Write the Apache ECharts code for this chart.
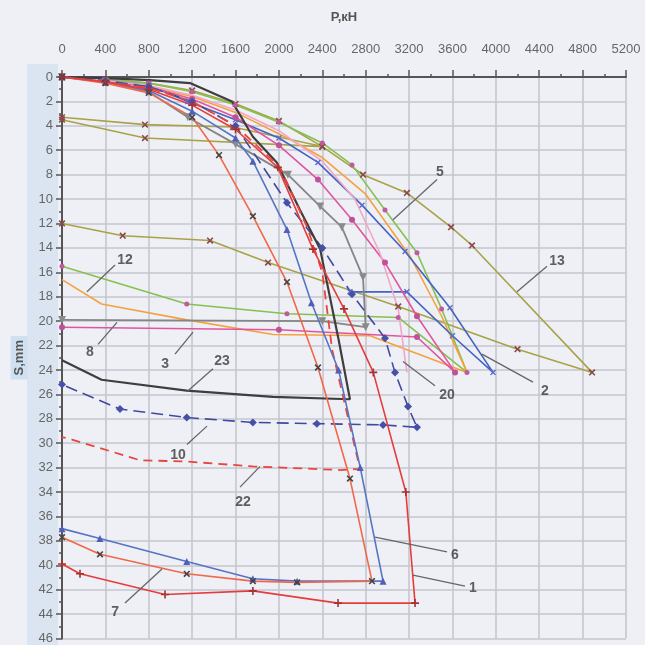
<!DOCTYPE html>
<html><head><meta charset="utf-8">
<script src="https://cdn.jsdelivr.net/npm/echarts@6/dist/echarts.min.js"></script>
<style>html,body{margin:0;padding:0;background:#eef0f5}#c{width:645px;height:645px}</style>
</head><body><div id="c"></div>
<script>
// ---- data: [P (kN), S (mm)] ----
const s1  = [[0,0],[400,0.4],[800,1.0],[1200,2.3],[1600,4.3],[1990,7.4],[2314,14.1],[2600,19],[2870,24.2],[3170,34],[3255,43.1],[2545,43.1],[1760,42.1],[950,42.4],[166,40.7],[0,39.9]];
const s6  = [[0,0],[400,0.4],[800,1.1],[1200,2.8],[1600,5.0],[1760,6.9],[2074,12.5],[2300,18.5],[2550,24],[2750,32],[2960,41.3],[2167,41.3],[1760,41.1],[1150,39.7],[350,37.8],[0,37.0]];
const s7  = [[0,0],[400,0.5],[800,1.3],[1200,3.3],[1448,6.4],[1760,11.4],[2074,16.8],[2360,23.8],[2655,32.9],[2858,41.3],[2167,41.4],[1760,41.3],[1150,40.7],[350,39.1],[0,37.7]];
const s22 = [[0,0],[400,0.4],[800,0.9],[1200,2.0],[1600,4.0],[2010,7.4],[2260,12.3],[2400,16],[2490,22.3],[2655,28.6],[2747,32.1],[2563,32.2],[1760,31.9],[1150,31.5],[720,31.4],[92,29.7],[0,29.5]];
const s23 = [[0,0],[400,0.1],[811,0.25],[1180,0.5],[1567,2.0],[1760,4.9],[1980,7.0],[2194,10.9],[2380,14.1],[2550,21.5],[2655,26.4],[1945,26.2],[1150,25.7],[365,24.8],[0,23.2]];
const s10 = [[0,0],[400,0.3],[800,0.8],[1200,2.0],[1600,4.0],[2074,10.3],[2400,14],[2674,17.8],[2978,21.4],[3070,24.2],[3190,27],[3273,28.7],[2960,28.5],[2350,28.4],[1760,28.3],[1150,27.9],[535,27.2],[0,25.2]];
const s8  = [[0,0],[400,0.4],[800,1.2],[1160,3.3],[1600,5.5],[2083,8.0],[2380,10.6],[2580,12.3],[2775,16.4],[2800,20.5],[2400,20.0],[0,19.9]];
const s2  = [[0,0],[400,0.3],[800,0.7],[1160,2.0],[1600,3.5],[2000,5.0],[2360,7.0],[2766,10.5],[3163,14.3],[3577,18.9],[3974,24.2],[3600,21.2],[3180,17.6],[2655,17.6]];
const s5  = [[0,0],[400,0.2],[800,0.5],[1200,1.2],[1600,2.3],[2000,3.7],[2400,5.4],[2674,7.2],[2978,10.9],[3273,14.4],[3500,19.0],[3734,24.2],[3100,19.7],[2074,19.4],[1150,18.6],[0,15.5]];
const s12 = [[0,0],[400,0.3],[800,0.8],[1200,1.6],[1600,2.9],[2100,5.1],[2400,6.6],[2800,9.6],[3210,14.7],[3500,19.6],[3734,24.2],[2840,21.2],[1945,21.1],[1150,19.9],[365,18.6],[0,16.6]];
const s3  = [[0,0],[400,0.3],[800,0.8],[1200,1.8],[1600,3.3],[2000,5.6],[2360,8.4],[2674,11.7],[2978,15.2],[3273,19.6],[3624,24.2],[3273,21.3],[2000,20.7],[0,20.5]];
const s20 = [[0,0],[400,0.3],[800,0.7],[1200,1.5],[1600,2.7],[2000,4.4],[2400,6.9],[2700,10],[2930,14.4],[3100,19],[3180,24.2]];
const s13 = [[0,0],[400,0.2],[800,0.5],[1200,1.1],[1600,2.2],[2000,3.6],[2400,5.7],[765,5.0],[0,3.5],[0,3.3],[765,3.9],[1577,4.1],[2400,5.7],[2775,8.0],[3180,9.5],[3587,12.3],[3780,13.8],[4887,24.2],[4200,22.3],[3100,18.8],[1900,15.2],[1365,13.4],[560,13.0],[0,12.0]];

// curve number labels and leader lines
const labelText = ['5','13','2','20','12','8','3','23','10','22','7','6','1'];
const labelPos  = [[3485,7.8],[4564,15.1],[4453,25.7],[3550,26.1],[581,15.0],[258,22.5],[950,23.5],[1475,23.3],[1070,31.0],[1669,34.8],[489,43.8],[3623,39.2],[3789,41.9]];
const leaderFrom= [[3458,8.4],[4472,15.5],[4343,25.0],[3439,25.3],[489,15.4],[332,21.9],[1042,22.7],[1392,23.9],[1152,30.1],[1641,33.6],[581,43.1],[3550,38.9],[3716,41.7]];
const leaderTo  = [[3052,11.7],[4195,17.6],[3872,22.7],[3144,23.3],[230,17.6],[507,20.1],[1208,20.9],[1162,25.7],[1337,28.6],[1826,31.9],[922,40.3],[2886,37.7],[3236,40.8]];

const PLUS = 'path://M4,0h2v4h4v2h-4v4h-2v-4h-4v-2h4z';
const chart = echarts.init(document.getElementById('c'));

function ln(name, data, color, opt) {
  opt = opt || {};
  return {
    name, type: 'line', data, smooth: false,
    symbol: opt.symbol || 'none', symbolSize: opt.size || 7, symbolRotate: opt.rot || 0,
    showSymbol: !!opt.symbol,
    lineStyle: { color, width: opt.w || 1.6, type: opt.dash || 'solid' },
    itemStyle: { color: opt.mcolor || color },
    z: opt.z || 2, silent: true, animation: false
  };
}

const series = [
  ln('13', s13, '#a9a248', {symbol: PLUS, rot: 45, size: 8, mcolor: '#8a4a4a'}),
  ln('5',  s5,  '#86c050', {symbol: 'circle', size: 5, mcolor: '#c05aa0'}),
  ln('12', s12, '#f5a23e', {}),
  ln('2',  s2,  '#4563c2', {symbol: PLUS, rot: 45, size: 7, mcolor: '#5a6ad0'}),
  ln('3',  s3,  '#e0559e', {symbol: 'circle', size: 6, mcolor: '#c0509a'}),
  ln('20', s20, '#f2a6c8', {}),
  ln('8',  s8,  '#858585', {symbol: 'triangle', rot: 180, size: 8, mcolor: '#8a8a8a', w: 1.8}),
  ln('10', s10, '#3d4aa0', {symbol: 'diamond', size: 8, dash: [12, 6], mcolor: '#4550a8'}),
  ln('23', s23, '#3e3e3e', {w: 2.2}),
  ln('22', s22, '#e8453e', {dash: [9, 6], w: 1.8}),
  ln('6',  s6,  '#5574c4', {symbol: 'triangle', size: 7, mcolor: '#5060b8'}),
  ln('7',  s7,  '#f2674a', {symbol: PLUS, rot: 45, size: 8, mcolor: '#444'}),
  ln('1',  s1,  '#e63c3c', {symbol: PLUS, size: 8, mcolor: '#a83030'}),
  {
    type: 'lines', coordinateSystem: 'cartesian2d', silent: true, animation: false, z: 5,
    lineStyle: { color: '#666', width: 1.3, opacity: 1 },
    data: leaderFrom.map((f, i) => ({ coords: [f, leaderTo[i]] }))
  },
  {
    type: 'scatter', symbolSize: 1, silent: true, animation: false, z: 6,
    itemStyle: { color: 'rgba(0,0,0,0)' },
    label: { show: true, position: 'inside', formatter: '{b}', fontFamily: 'Liberation Sans', fontWeight: 'bold', fontSize: 14, color: '#3a3a3a' },
    data: labelText.map((t, i) => ({ name: t, value: labelPos[i] }))
  }
];

chart.setOption({
  backgroundColor: '#eef0f5',
  animation: false,
  graphic: [
    { type: 'rect', z: -10, shape: { x: 27, y: 64, width: 31, height: 581 }, style: { fill: '#dbe5f1' } }
  ],
  grid: { left: 62, right: 19, top: 77, bottom: 5, containLabel: false },
  xAxis: {
    type: 'value', position: 'top', min: 0, max: 5200, interval: 400,
    name: 'P,кН', nameLocation: 'middle', nameGap: 53,
    nameTextStyle: { fontFamily: 'Liberation Sans', fontWeight: 'bold', fontSize: 13, color: '#555' },
    axisLine: { show: true, onZero: false, lineStyle: { color: '#555', width: 2 } },
    axisTick: { show: true, inside: false, length: 7, lineStyle: { color: '#555', width: 1.5 } },
    minorTick: { show: true, splitNumber: 2, length: 3, lineStyle: { color: '#555', width: 1.5 } },
    axisLabel: { fontFamily: 'Liberation Sans', fontSize: 13, color: '#666', margin: 21, formatter: v => String(v) },
    splitLine: { show: true, lineStyle: { color: '#c6c6ce', width: 1.6 } }
  },
  yAxis: {
    type: 'value', inverse: true, min: 0, max: 46, interval: 2,
    name: 'S,mm', nameLocation: 'middle', nameGap: 32, nameRotate: 90,
    nameTextStyle: { fontFamily: 'Liberation Sans', fontWeight: 'bold', fontSize: 13, color: '#555', backgroundColor: '#cfe0f0', padding: [2, 4] },
    axisLine: { show: true, onZero: false, lineStyle: { color: '#555', width: 2 } },
    axisTick: { show: true, inside: false, length: 6, lineStyle: { color: '#555', width: 1.5 } },
    minorTick: { show: true, splitNumber: 2, length: 3, lineStyle: { color: '#555', width: 1.5 } },
    axisLabel: { fontFamily: 'Liberation Sans', fontSize: 13, color: '#666', margin: 9, formatter: v => String(v) },
    splitLine: { show: true, lineStyle: { color: '#c6c6ce', width: 1.6 } }
  },
  series
});
</script></body></html>
